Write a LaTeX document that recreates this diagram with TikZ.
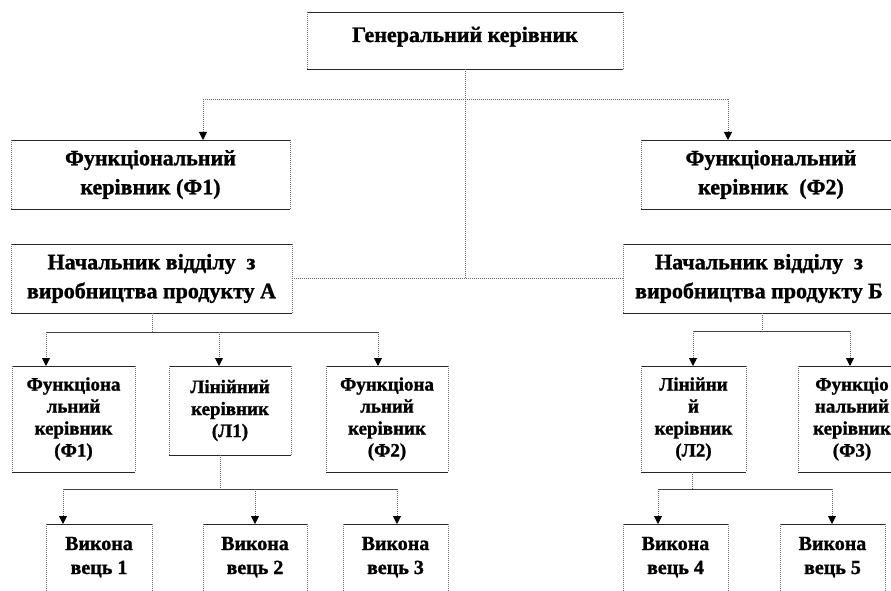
\documentclass[tikz,border=0pt]{standalone}
\usepackage{fontspec}
\setmainfont{Liberation Serif}[BoldFeatures={FakeBold=1.2}]
\usetikzlibrary{arrows.meta}
\begin{document}
\begin{tikzpicture}[x=1pt,y=-1pt,
  boxh/.style={draw=black!85, line width=0.9pt},
  boxv/.style={draw=black!55, line width=0.9pt, dash pattern=on 1pt off 1pt},
  box/.style={inner sep=0pt, outer sep=0pt, align=center, anchor=north west,
    append after command={
      (\tikzlastnode.north west) edge[boxh] (\tikzlastnode.north east)
      (\tikzlastnode.south west) edge[boxh] (\tikzlastnode.south east)
      (\tikzlastnode.north west) edge[boxv] (\tikzlastnode.south west)
      (\tikzlastnode.north east) edge[boxv] (\tikzlastnode.south east)}},
  big/.style={box, font=\fontsize{22}{29}\selectfont\bfseries},
  mid/.style={box, font=\fontsize{19}{22}\selectfont\bfseries},
  low/.style={box, font=\fontsize{20}{24}\selectfont\bfseries, text height=50pt, text depth=40pt},
  conn/.style={draw=black!60, line width=0.9pt, dash pattern=on 1pt off 1pt},
  bus/.style={draw=black!75, line width=0.8pt},
  arr/.style={-{Triangle[width=8pt,length=8pt,color=black]}},
]
\useasboundingbox (0,0) rectangle (891,591);
\clip (0,0) rectangle (891,591);

% boxes
\node[big, minimum width=316pt, minimum height=57pt, text height=15pt, text depth=12pt] (gen) at (307,12) {Генеральний керівник};
\node[big, minimum width=279pt, minimum height=69pt] (f1) at (11,140) {Функціональний\\керівник (Ф1)};
\node[big, minimum width=260pt, minimum height=69pt] (f2) at (641,140) {Функціональний\\керівник\ \ (Ф2)};
\node[big, minimum width=281pt, minimum height=69pt] (nA) at (11,244) {Начальник відділу\ \ з\\виробництва продукту А};
\node[big, minimum width=272pt, minimum height=69pt] (nB) at (623,244) {Начальник відділу\ \ з\\виробництва продукту Б};

\node[mid, minimum width=123pt, minimum height=106pt] (f1s) at (12,366) {Функціона\\льний\\керівник\\(Ф1)};
\node[mid, minimum width=122pt, minimum height=89pt] (l1) at (169,366) {Лінійний\\керівник\\(Л1)};
\node[mid, minimum width=122pt, minimum height=106pt] (f2s) at (326,366) {Функціона\\льний\\керівник\\(Ф2)};
\node[mid, minimum width=105pt, minimum height=106pt] (l2) at (641,366) {Лінійни\\й\\керівник\\(Л2)};
\node[mid, minimum width=108pt, minimum height=106pt] (f3s) at (798,366) {Функціо\\нальний\\керівник\\(Ф3)};

\node[low, minimum width=106pt] (v1) at (46,524) {Викона\\вець 1};
\node[low, minimum width=104pt] (v2) at (203,524) {Викона\\вець 2};
\node[low, minimum width=105pt] (v3) at (343,524) {Викона\\вець 3};
\node[low, minimum width=105pt] (v4) at (623,524) {Викона\\вець 4};
\node[low, minimum width=105pt] (v5) at (780,524) {Викона\\вець 5};

% junction points
\coordinate (a1) at (203,99);
\coordinate (a2) at (728,99);
\coordinate (b0) at (152,332);
\coordinate (b1) at (46,332);
\coordinate (b2) at (219,332);
\coordinate (b3) at (378,332);
\coordinate (c0) at (220,489);
\coordinate (c1) at (63,489);
\coordinate (c2) at (255,489);
\coordinate (c3) at (397,489);
\coordinate (d0) at (762,331);
\coordinate (d1) at (693,331);
\coordinate (d2) at (850,331);
\coordinate (e0) at (692,489);
\coordinate (e1) at (658,489);
\coordinate (e2) at (832,489);

% top level
\draw[conn] (gen.south) -- (gen.south |- nA.east);
\draw[conn] (a1) -- (a2);
\draw[conn, arr] (a1) -- (a1 |- f1.north);
\draw[conn, arr] (a2) -- (a2 |- f2.north);
\draw[conn] (nA.east) -- (nB.west);

% department A
\draw[conn] (b0 |- nA.south) -- (b0);
\draw[bus] (b1) -- (b3);
\draw[conn, arr] (b1) -- (b1 |- f1s.north);
\draw[conn, arr] (b2) -- (b2 |- l1.north);
\draw[conn, arr] (b3) -- (b3 |- f2s.north);
\draw[conn] (c0 |- l1.south) -- (c0);
\draw[bus] (c1) -- (c3);
\draw[conn, arr] (c1) -- (c1 |- v1.north);
\draw[conn, arr] (c2) -- (c2 |- v2.north);
\draw[conn, arr] (c3) -- (c3 |- v3.north);

% department B
\draw[conn] (d0 |- nB.south) -- (d0);
\draw[bus] (d1) -- (d2);
\draw[conn, arr] (d1) -- (d1 |- l2.north);
\draw[conn, arr] (d2) -- (d2 |- f3s.north);
\draw[conn] (e0 |- l2.south) -- (e0);
\draw[bus] (e1) -- (e2);
\draw[conn, arr] (e1) -- (e1 |- v4.north);
\draw[conn, arr] (e2) -- (e2 |- v5.north);
\end{tikzpicture}
\end{document}
